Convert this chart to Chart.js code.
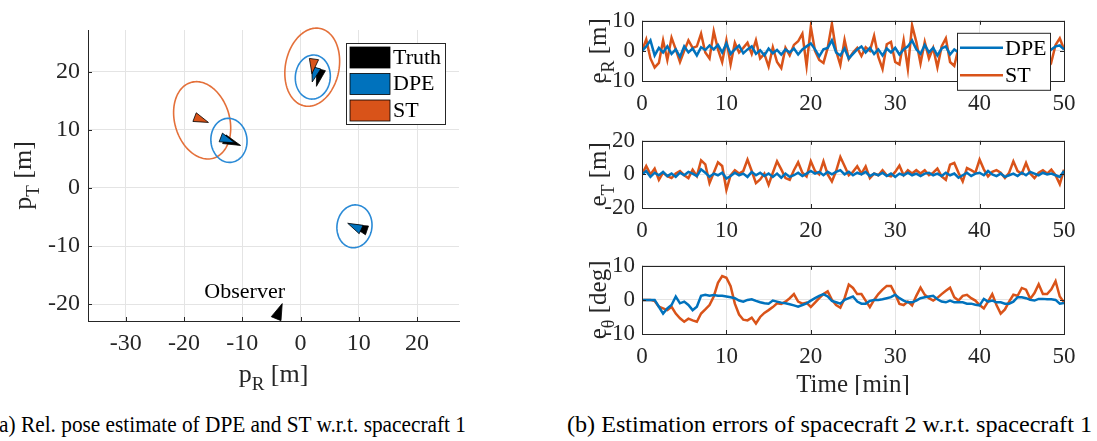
<!DOCTYPE html>
<html lang="en">
<head>
<meta charset="UTF-8">
<title>DPE vs ST pose estimates</title>
<script src="https://cdn.jsdelivr.net/npm/chart.js"></script>
<style>
  body { margin: 0; background: #fff; width: 1097px; height: 441px; overflow: hidden; position: relative; }
  canvas { position: absolute; }
  .cap { position: absolute; top: 412px; left: 0; font-family: "Liberation Serif", "Times New Roman", serif; font-size: 23px; line-height: 26px; color: #000; white-space: nowrap; transform-origin: 0 0; }
</style>
</head>
<body>
<canvas id="pose" width="480" height="395" style="left:0;top:0"></canvas>
<canvas id="errR" width="537" height="120" style="left:560px;top:0"></canvas>
<canvas id="errT" width="537" height="125" style="left:560px;top:120px"></canvas>
<canvas id="errTh" width="537" height="150" style="left:560px;top:245px"></canvas>
<div class="cap" id="capA">(a) Rel. pose estimate of DPE and ST w.r.t. spacecraft 1</div>
<div class="cap" id="capB">(b) Estimation errors of spacecraft 2 w.r.t. spacecraft 1</div>
<script>
// ---- (a) relative pose, metres ----
const poseTicksR = [-30, -20, -10, 0, 10, 20];
const poseTicksT = [-20, -10, 0, 10, 20];

// base-midpoint position and heading (deg) of each pose marker
const truthX = [-13.1, 3.5, 11.4];
const truthY = [8.4, 20.4, -7.3];
const truthHead = [-21, -105, 161];
const dpeX = [-13.7, 2.7, 10.4];
const dpeY = [8.7, 20.7, -7.15];
const dpeHead = [-21, -106, 155];
const stX = [-18.2, 2.3];
const stY = [12.2, 22.2];
const stHead = [-21, -98];
const observerX = -4.2, observerY = -22.5, observerHead = 68;

// covariance ellipses: centre, semi-axes (m), orientation of major axis (deg)
const dpeEllX = [-12.3, 2.1, 9.25];
const dpeEllY = [8.2, 19.1, -6.6];
const dpeEllMajor = [3.8, 3.8, 3.7];
const dpeEllMinor = [3.1, 3.0, 3.0];
const dpeEllAngle = [95, 85, 82];
const stEllX = [-16.9, 2.0];
const stEllY = [11.65, 20.8];
const stEllMajor = [6.8, 6.8];
const stEllMinor = [4.7, 4.6];
const stEllAngle = [106.5, 78.6];

// ---- (b) estimation errors, sampled every 0.5 min ----
const timeMin = Array.from({ length: 101 }, (_, i) => i * 0.5);
const timeTicks = [0, 10, 20, 30, 40, 50];

const eR_dpe = [
  0, 1.5, 3.5, -1.5, 1, -0.5, 1.5, -1, 0.5, -2,
  1.5, -0.5, 0.8, -1.5, 1.2, 0.3, 1.8, 0.5, 2, -0.5,
  2.5, -1, 0.5, 1.8, -0.8, 0.5, 1.5, -1, 0.2, -1.5,
  0.8, -0.8, 0.3, -1.2, 0.5, -0.5, 0.8, -1.2, 0.5, 1.5,
  2.5, 0.5, -1.8, 0.5, 1, 3.5, -0.5, -1.5, 0.8, -2.5,
  -1, 0.5, 1.5, -0.5, 1, -1, 0.5, -1.5, 0.8, -0.5,
  1, -1.2, 0.5, 1.5, 3.5, 0.5, -1, 2, -0.5, 1,
  -1.5, 0.8, 1.5, -1.2, 0.5, -0.5, 1, -1, 0.5, 1.2,
  -0.8, 0.5, 1, -1, 0.3, 1.5, -0.5, 0.8, -1.2, 0.5,
  1, -0.8, 0.5, 1.2, -0.5, 0.8, -1, 0.5, 1.5, 1.8,
  0.5];
const eR_st = [
  0, 3.8, -2.5, -5.5, -4, 3.5, -3, 4.4, 0.5, -3.7,
  0, 3.5, 1, 1.5, 5.7, -0.5, -2.5, 6.5, 0.5, -3.7,
  3.5, -4.5, 2.7, -0.5, 1, 2.7, -1, 3.5, -2.5, -1,
  -5.2, 1.2, -3.7, -5.7, 1, -1.5, 2, 3.2, 5.7, -5,
  8, 0, -3, -4, 1, 9, 0, -4.7, 3.7, -2.7,
  -0.5, 1, -1.7, 1.2, 0, 5, -2, -6, 2.2, 3,
  -3.7, -4.5, 3.5, -6, 8.5, 3, -4.2, 3, -2.5, 1,
  -5.5, 1.5, 4.2, -3.7, -5, 1, -2, 3, -1, -4,
  2, -1, 3, -2.5, 0.5, 3.5, -3, 1, -1.5, 2.5,
  -2, 1, 3, -2.5, 0, 2, -1, -3.7, 2, 4.2,
  0.5];
const eT_dpe = [
  0, 2, -1.5, 1, -0.5, 1.5, -1, 0.5, -1.5, 1,
  -0.5, 1.5, 0.5, -1, 3, 1, -1.5, 0.5, -0.5, 1,
  -2.5, -1, 1, -0.5, 0.5, -1.5, 1.5, -0.5, 1, -1,
  0.5, -1.5, 0.5, -2, 0.5, -1.5, -0.5, 1, -1, 0.5,
  2, 0.5, 1.5, -0.5, 1.5, 0, 1.5, 2.5, 0, 1.5,
  -0.5, 1, 0, 1.5, -1, 0.5, -0.5, 1, -1, 0.5,
  -1.5, 0.5, -0.5, 1, -0.5, 0.5, -1, 0.5, 1, -0.5,
  0.5, -1, 1, -0.5, 0.5, -2, -0.5, 1, -1, 0.5,
  1, -0.5, 2, 0, -1, 0.5, -1.5, -0.5, 0.5, -1,
  1, -0.5, 1.5, 0.5, -0.5, 1, 0, 0.5, -0.5, -1.5,
  2];
const eT_st = [
  0, 5, 0, 3.5, -3.2, 1, -1, -2.2, 0.5, 2,
  -0.5, -2.2, 2.8, -1, 8.4, 6, -5.2, 1, 7.2, 5,
  -9.2, -0.5, 2.5, 0.5, 2, 8.8, 2, -5.2, -3, 0.5,
  -6.2, 1, 7.8, 3, -2.2, -3.2, 2.5, 7.2, 1, -1.2,
  7.8, 2, 0, 7.8, 0, -4.2, 2, 10.4, 5, -0.5,
  1.5, 4.8, 0.5, 4.8, -2.2, 0.5, -0.5, 2.5, -0.5, -1.2,
  1.5, 5.2, -0.5, 2.5, 0.5, 2.5, 0.5, 2.5, -0.5, 1,
  3.5, -1.2, -3.2, 5.8, 6.8, 1, -4.2, 3.8, 2.5, 1,
  8.8, 3, -1.2, 1.5, 2.5, 1, -2.2, 1, 7.8, 2,
  0.5, 6.8, 0.5, -2.2, 1, 2.5, 0.5, 2.8, -0.5, -5.8,
  2.8];
const eTh_dpe = [
  0, 0, 0, 0, -2, -4, -2.5, -1.5, 1, -1,
  -0.5, -1.5, -3, -2, 1.2, 1.5, 1.2, 1.4, 1.2, 1.2,
  1, 0.8, 0.5, -0.2, -0.5, 0, 0.2, -0.3, -0.7, -1,
  -1.1, -0.2, -0.5, -0.8, -1, -1.3, -1.6, -2, -1.5, -1,
  -0.2, 0.5, 1.2, 1.7, 1, -0.3, -0.7, -1.1, 0, 0.5,
  1, -0.5, -1.1, -1.1, -0.3, 0, 0, 0.2, 0.5, 0.8,
  1.5, 0.5, -0.2, -0.7, -0.7, -0.2, 0.5, 0.8, 1, 1.2,
  0.2, -0.5, -0.7, -0.2, -0.7, -0.7, -0.7, -1.1, -1.1, -1.4,
  -1.6, 0.3, -0.5, -0.2, -0.7, -0.7, -1.1, -1.1, -0.5, 0.8,
  0.8, 0.5, 0, -0.2, 0.3, 0.3, 0.2, 0.2, 0, -1.1,
  -0.9];
const eTh_st = [
  0, 0, 0, -0.3, -2, -2.5, -3, -2, -4, -5.4,
  -6.4, -5.5, -6, -6.4, -4, -2.8, -1.5, 1, 5, 7,
  6.5, 4, -1.1, -4.3, -5.8, -6, -5.2, -6.9, -5, -3.8,
  -3, -2.1, -1, -1.2, -0.5, 0.5, 1.7, -0.5, -1.1, -0.8,
  -2.1, -0.8, 0.5, 1.7, 2.5, 0, -1.5, -2.3, 0.5, 4.5,
  3.5, 1.7, 1.7, -0.2, -2.1, 0, 1.7, 3, 4.1, 4.1,
  1.7, -1.2, -1.5, -0.5, -1.6, 1.2, 3.6, 1.5, 0.5, -0.2,
  0.6, 1.7, 2.7, 3.6, 0.8, -0.2, 1.2, 1.5, 0.5, -0.2,
  -1.5, -2.5, -0.5, 1.7, -1.5, -4, -2.8, -0.5, 1.5, 1.2,
  3.5, 3, 0.3, 2, 4.6, 1.7, 1.7, 3.1, 5.5, 1,
  -0.7];

// ---- styling ----
const SERIF = '"Liberation Serif", "Times New Roman", serif';
const BLUE = '#0072BD';
const ORANGE = '#D95319';
const AXIS = '#262626';
const GRID = '#e4e4e4';
const TRI_LEN = 3.0;     // marker length, m
const TRI_WIDTH = 1.6;   // marker base width, m

function subLabel(ctx, parts, x, y, size, rotated) {
  // parts: [main, subscript, rest], centred on x, baseline at y
  ctx.save();
  ctx.translate(x, y);
  if (rotated) ctx.rotate(-Math.PI / 2);
  ctx.fillStyle = AXIS;
  ctx.textBaseline = 'alphabetic';
  ctx.textAlign = 'left';
  const big = size + 'px ' + SERIF, small = Math.round(size * 0.72) + 'px ' + SERIF;
  ctx.font = big; const w1 = ctx.measureText(parts[0]).width, w3 = ctx.measureText(parts[2]).width;
  ctx.font = small; const w2 = ctx.measureText(parts[1]).width;
  let cx = -(w1 + w2 + w3) / 2;
  ctx.font = big; ctx.fillText(parts[0], cx, 0); cx += w1;
  ctx.font = small; ctx.fillText(parts[1], cx, size * 0.3); cx += w2;
  ctx.font = big; ctx.fillText(parts[2], cx, 0);
  ctx.restore();
}

function inwardTicks(chart, sides) {
  const { ctx, chartArea: a, scales } = chart;
  const len = 4;
  ctx.save();
  ctx.strokeStyle = AXIS; ctx.lineWidth = 1;
  ctx.beginPath();
  scales.x.ticks.forEach(t => {
    const px = Math.round(scales.x.getPixelForValue(t.value)) + 0.5;
    if (sides.bottom) { ctx.moveTo(px, a.bottom); ctx.lineTo(px, a.bottom - len); }
    if (sides.top) { ctx.moveTo(px, a.top); ctx.lineTo(px, a.top + len); }
  });
  scales.y.ticks.forEach(t => {
    const py = Math.round(scales.y.getPixelForValue(t.value)) + 0.5;
    if (sides.left) { ctx.moveTo(a.left, py); ctx.lineTo(a.left + len, py); }
    if (sides.right) { ctx.moveTo(a.right, py); ctx.lineTo(a.right - len, py); }
  });
  ctx.stroke();
  ctx.restore();
}

function drawMarker(chart, x, y, headDeg, len, width, fill) {
  const { ctx, scales } = chart;
  const h = headDeg * Math.PI / 180;
  const ux = Math.cos(h), uy = Math.sin(h), qx = -uy, qy = ux;
  const pts = [
    [x + len * ux, y + len * uy],
    [x + width / 2 * qx, y + width / 2 * qy],
    [x - width / 2 * qx, y - width / 2 * qy]
  ];
  ctx.beginPath();
  pts.forEach((p, i) => {
    const px = scales.x.getPixelForValue(p[0]), py = scales.y.getPixelForValue(p[1]);
    if (i === 0) ctx.moveTo(px, py); else ctx.lineTo(px, py);
  });
  ctx.closePath();
  ctx.fillStyle = fill; ctx.fill();
  ctx.strokeStyle = '#000'; ctx.lineWidth = 0.8; ctx.stroke();
}

function drawEllipse(chart, cx, cy, a, b, angDeg, color) {
  const { ctx, scales } = chart;
  const phi = angDeg * Math.PI / 180;
  ctx.beginPath();
  for (let i = 0; i <= 120; i++) {
    const t = i / 120 * 2 * Math.PI;
    const ex = cx + a * Math.cos(t) * Math.cos(phi) - b * Math.sin(t) * Math.sin(phi);
    const ey = cy + a * Math.cos(t) * Math.sin(phi) + b * Math.sin(t) * Math.cos(phi);
    const px = scales.x.getPixelForValue(ex), py = scales.y.getPixelForValue(ey);
    if (i === 0) ctx.moveTo(px, py); else ctx.lineTo(px, py);
  }
  ctx.strokeStyle = color; ctx.lineWidth = 1.6; ctx.stroke();
}

const posePlugin = {
  id: 'posePlugin',
  afterDatasetsDraw(chart) {
    const { ctx, chartArea: a, scales } = chart;
    ctx.save();
    stEllX.forEach((v, i) => drawEllipse(chart, v, stEllY[i], stEllMajor[i], stEllMinor[i], stEllAngle[i], '#e4703a'));
    dpeEllX.forEach((v, i) => drawEllipse(chart, v, dpeEllY[i], dpeEllMajor[i], dpeEllMinor[i], dpeEllAngle[i], '#2a8ad6'));
    truthX.forEach((v, i) => drawMarker(chart, v, truthY[i], truthHead[i], TRI_LEN, TRI_WIDTH, '#000'));
    dpeX.forEach((v, i) => drawMarker(chart, v, dpeY[i], dpeHead[i], TRI_LEN * 0.85, TRI_WIDTH, BLUE));
    stX.forEach((v, i) => drawMarker(chart, v, stY[i], stHead[i], TRI_LEN * 0.85, TRI_WIDTH, ORANGE));
    drawMarker(chart, observerX, observerY, observerHead, 2.8, 1.8, '#000');

    ctx.font = '22px ' + SERIF; ctx.fillStyle = '#000';
    ctx.textAlign = 'center'; ctx.textBaseline = 'middle';
    ctx.fillText('Observer', scales.x.getPixelForValue(-9.6), scales.y.getPixelForValue(-17.9));

    // legend
    const lx = a.right - 113, ly = a.top + 13, lw = 99, lh = 81;
    ctx.fillStyle = '#fff'; ctx.fillRect(lx, ly, lw, lh);
    ctx.strokeStyle = AXIS; ctx.lineWidth = 1; ctx.strokeRect(lx + 0.5, ly + 0.5, lw, lh);
    [['Truth', '#000'], ['DPE', BLUE], ['ST', ORANGE]].forEach((e, i) => {
      const ry = ly + 4 + i * 26.5;
      ctx.fillStyle = e[1]; ctx.fillRect(lx + 4, ry, 40, 21);
      ctx.strokeStyle = '#000'; ctx.lineWidth = 0.8; ctx.strokeRect(lx + 4, ry, 40, 21);
      ctx.fillStyle = '#000'; ctx.font = '22px ' + SERIF;
      ctx.textAlign = 'left'; ctx.textBaseline = 'middle';
      ctx.fillText(e[0], lx + 47, ry + 11);
    });
    ctx.restore();
    inwardTicks(chart, { bottom: true, left: true });
    subLabel(ctx, ['p', 'R', ' [m]'], (a.left + a.right) / 2, a.bottom + 61, 26, false);
    subLabel(ctx, ['p', 'T', ' [m]'], a.left - 57, (a.top + a.bottom) / 2, 26, true);
  }
};

new Chart(document.getElementById('pose'), {
  type: 'scatter',
  data: { datasets: [] },
  options: {
    responsive: false, animation: false,
    layout: { padding: { top: 30, right: 21, left: 0, bottom: 0 } },
    plugins: { legend: { display: false }, tooltip: { enabled: false } },
    scales: {
      x: {
        type: 'linear', min: -36.5, max: 27.2,
        afterBuildTicks: s => { s.ticks = poseTicksR.map(v => ({ value: v })); },
        afterFit: s => { s.height = 74; },
        grid: { color: GRID, drawTicks: false },
        border: { color: AXIS, width: 1 },
        ticks: { font: { family: SERIF, size: 24 }, color: AXIS, padding: 8, maxRotation: 0, autoSkip: false }
      },
      y: {
        type: 'linear', min: -22.9, max: 27.2,
        afterBuildTicks: s => { s.ticks = poseTicksT.map(v => ({ value: v })); },
        afterFit: s => { s.width = 88; },
        grid: { color: GRID, drawTicks: false },
        border: { color: AXIS, width: 1 },
        ticks: { font: { family: SERIF, size: 24 }, color: AXIS, padding: 8, autoSkip: false }
      }
    }
  },
  plugins: [posePlugin]
});

function errChart(id, dpe, st, yMin, yMax, yTicks, label, opts) {
  const plugin = {
    id: 'frame_' + id,
    afterDraw(chart) {
      const { ctx, chartArea: a } = chart;
      ctx.save();
      ctx.strokeStyle = AXIS; ctx.lineWidth = 1;
      ctx.strokeRect(Math.round(a.left) + 0.5, Math.round(a.top) + 0.5, Math.round(a.right - a.left), Math.round(a.bottom - a.top));
      ctx.restore();
      inwardTicks(chart, { bottom: true, top: true, left: true, right: true });
      subLabel(ctx, label, a.left - 36, (a.top + a.bottom) / 2, 25, true);
      if (opts.legend) {
        const lx = a.right - 107, ly = a.top + 12, lw = 93, lh = 57;
        ctx.save();
        ctx.fillStyle = '#fff'; ctx.fillRect(lx, ly, lw, lh);
        ctx.strokeStyle = AXIS; ctx.lineWidth = 1; ctx.strokeRect(lx + 0.5, ly + 0.5, lw, lh);
        [['DPE', BLUE], ['ST', ORANGE]].forEach((e, i) => {
          const ry = ly + 15 + i * 27.5;
          ctx.strokeStyle = e[1]; ctx.lineWidth = 2.5;
          ctx.beginPath(); ctx.moveTo(lx + 3, ry); ctx.lineTo(lx + 46, ry); ctx.stroke();
          ctx.fillStyle = '#000'; ctx.font = '22px ' + SERIF;
          ctx.textAlign = 'left'; ctx.textBaseline = 'middle';
          ctx.fillText(e[0], lx + 48, ry + 1);
        });
        ctx.restore();
      }
      if (opts.xTitle) {
        ctx.save();
        ctx.fillStyle = AXIS; ctx.font = '25px ' + SERIF;
        ctx.textAlign = 'center'; ctx.textBaseline = 'alphabetic';
        ctx.fillText(opts.xTitle, (a.left + a.right) / 2, a.bottom + 58);
        ctx.restore();
      }
    }
  };
  return new Chart(document.getElementById(id), {
    type: 'line',
    data: {
      datasets: [
        { label: 'DPE', data: timeMin.map((t, i) => ({ x: t, y: dpe[i] })), borderColor: BLUE, borderWidth: 2.5, pointRadius: 0, tension: 0 },
        { label: 'ST', data: timeMin.map((t, i) => ({ x: t, y: st[i] })), borderColor: ORANGE, borderWidth: 2.5, pointRadius: 0, tension: 0 }
      ]
    },
    options: {
      responsive: false, animation: false,
      layout: { padding: { top: opts.top, right: 33, left: 0, bottom: 0 } },
      plugins: { legend: { display: false }, tooltip: { enabled: false } },
      scales: {
        x: {
          type: 'linear', min: 0, max: 50,
          afterBuildTicks: s => { s.ticks = timeTicks.map(v => ({ value: v })); },
          afterFit: s => { s.height = opts.xh; },
          grid: { color: GRID, drawTicks: false },
          border: { display: false },
          ticks: { font: { family: SERIF, size: 23 }, color: AXIS, padding: 9, maxRotation: 0, autoSkip: false }
        },
        y: {
          type: 'linear', min: yMin, max: yMax,
          afterBuildTicks: s => { s.ticks = yTicks.map(v => ({ value: v })); },
          afterFit: s => { s.width = 82; },
          grid: { color: GRID, drawTicks: false },
          border: { display: false },
          ticks: { font: { family: SERIF, size: 23 }, color: AXIS, padding: 7, autoSkip: false }
        }
      }
    },
    plugins: [plugin]
  });
}

errChart('errR', eR_dpe, eR_st, -10, 10, [-10, 0, 10], ['e', 'R', ' [m]'], { top: 12, xh: 39, legend: true });
errChart('errT', eT_dpe, eT_st, -20, 20, [-20, 0, 20], ['e', 'T', ' [m]'], { top: 20, xh: 37 });
errChart('errTh', eTh_dpe, eTh_st, -10, 10, [-10, 0, 10], ['e', '\u03B8', ' [deg]'], { top: 20, xh: 61, xTitle: 'Time [min]' });

// fit each caption into the horizontal span it takes in the figure
function fitCaption(id, x0, x1) {
  const el = document.getElementById(id);
  const w = el.getBoundingClientRect().width;
  el.style.left = x0 + 'px';
  el.style.transform = 'scaleX(' + ((x1 - x0) / w) + ')';
}
fitCaption('capA', -8, 466);
fitCaption('capB', 567, 1092);
</script>
</body>
</html>
